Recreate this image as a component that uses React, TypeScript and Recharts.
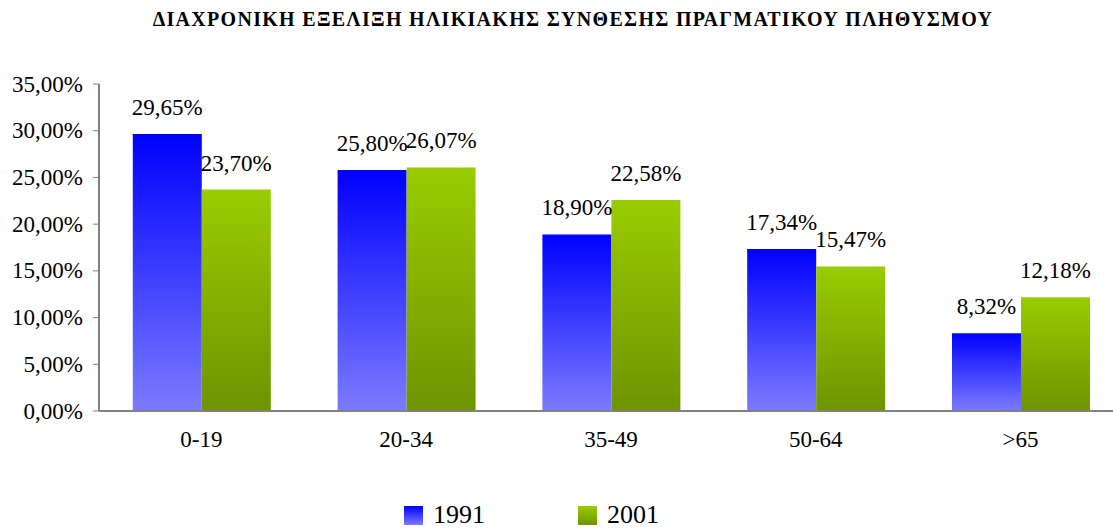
import React from "react";
import { BarChart, Bar, XAxis, YAxis, LabelList, Legend } from "recharts";

const categories = ["0-19", "20-34", "35-49", "50-64", ">65"];
const values1991 = [29.65, 25.8, 18.9, 17.34, 8.32];
const values2001 = [23.7, 26.07, 22.58, 15.47, 12.18];
const yTicks = [0, 5, 10, 15, 20, 25, 30, 35];
const seriesNames = ["1991", "2001"];
const title = "ΔΙΑΧΡΟΝΙΚΗ ΕΞΕΛΙΞΗ ΗΛΙΚΙΑΚΗΣ ΣΥΝΘΕΣΗΣ ΠΡΑΓΜΑΤΙΚΟΥ ΠΛΗΘΥΣΜΟΥ";

const data = categories.map((c, i) => ({
  name: c,
  idx: i + 0.5,
  v1991: values1991[i],
  v2001: values2001[i],
}));

const fmt = (v: number) => `${Number(v).toFixed(2).replace(".", ",")}%`;
const FONT = "'Liberation Serif', 'Times New Roman', serif";
const TXT: React.CSSProperties = { fontFamily: FONT, fontSize: 23, fill: "#000" };

const XTick = (props: any) => {
  const { x, y, payload } = props;
  return (
    <text x={x} y={y} dy={14} textAnchor="middle" style={TXT}>
      {payload.value}
    </text>
  );
};

const YTick = (props: any) => {
  const { x, y, payload } = props;
  return (
    <text x={x} y={y} dy={7.5} textAnchor="end" style={TXT}>
      {fmt(payload.value)}
    </text>
  );
};

const BarLabel = (props: any) => {
  const { x, y, width, value } = props;
  return (
    <text x={x + width / 2} y={y - 19} textAnchor="middle" style={TXT}>
      {fmt(value)}
    </text>
  );
};

const LegendContent = () => (
  <div style={{ position: "relative", width: "100%", height: 30, fontFamily: FONT }}>
    {seriesNames.map((s, i) => (
      <div
        key={s}
        style={{
          position: "absolute",
          left: 404 + i * 174,
          top: 0,
          display: "flex",
          alignItems: "center",
          fontSize: 26,
          lineHeight: "30px",
          color: "#000",
        }}
      >
        <span
          style={{
            display: "inline-block",
            width: 19,
            height: 19,
            marginRight: 10,
            background:
              i === 0
                ? "linear-gradient(#0000ff, #7b7bff)"
                : "linear-gradient(#99cc00, #6e9400)",
          }}
        />
        {s}
      </div>
    ))}
  </div>
);

export default function App() {
  return (
    <div
      style={{
        position: "fixed",
        left: 0,
        top: 0,
        width: 1113,
        height: 531,
        overflow: "hidden",
        background: "#fff",
        fontFamily: FONT,
      }}
    >
      <div
        style={{
          position: "absolute",
          left: 0,
          width: 1146,
          top: 8,
          textAlign: "center",
          fontWeight: "bold",
          fontSize: 20,
          letterSpacing: 1.3,
          fontFamily: FONT,
          color: "#000",
        }}
      >
        {title}
      </div>
      <div style={{ position: "absolute", left: 0, top: 0 }}>
        <BarChart
          width={1130}
          height={531}
          data={data}
          margin={{ top: 84, right: 7, bottom: 50, left: 0 }}
          barCategoryGap="16.5%"
          barGap={0}
          style={{ fontFamily: FONT, fontSize: 23 }}
        >
          <defs>
            <linearGradient id="g1991" x1="0" y1="0" x2="0" y2="1">
              <stop offset="0%" stopColor="#0000ff" />
              <stop offset="100%" stopColor="#7b7bff" />
            </linearGradient>
            <linearGradient id="g2001" x1="0" y1="0" x2="0" y2="1">
              <stop offset="0%" stopColor="#99cc00" />
              <stop offset="100%" stopColor="#6e9400" />
            </linearGradient>
          </defs>
          <XAxis
            xAxisId="b"
            dataKey="idx"
            type="number"
            domain={[0, 5]}
            ticks={[0, 1, 2, 3, 4, 5]}
            height={0}
            tick={false}
            tickLine={{ stroke: "#808080" }}
            tickSize={6}
            axisLine={false}
          />
          <XAxis
            dataKey="name"
            tickLine={false}
            tickSize={0}
            tickMargin={22}
            axisLine={{ stroke: "#808080", strokeWidth: 2 }}
            tick={<XTick />}
            height={40}
          />
          <YAxis
            domain={[0, 35]}
            ticks={yTicks}
            width={99}
            tickSize={6}
            tickMargin={10}
            tickLine={{ stroke: "#808080" }}
            axisLine={{ stroke: "#808080", strokeWidth: 2 }}
            tick={<YTick />}
            interval={0}
          />
          <Legend
            verticalAlign="bottom"
            content={<LegendContent />}
            wrapperStyle={{ position: "absolute", left: 0, top: 500, width: 1113, height: 30 }}
          />
          <Bar dataKey="v1991" name="1991" fill="url(#g1991)" isAnimationActive={false}>
            <LabelList dataKey="v1991" content={<BarLabel />} />
          </Bar>
          <Bar dataKey="v2001" name="2001" fill="url(#g2001)" isAnimationActive={false}>
            <LabelList dataKey="v2001" content={<BarLabel />} />
          </Bar>
        </BarChart>
      </div>
    </div>
  );
}
